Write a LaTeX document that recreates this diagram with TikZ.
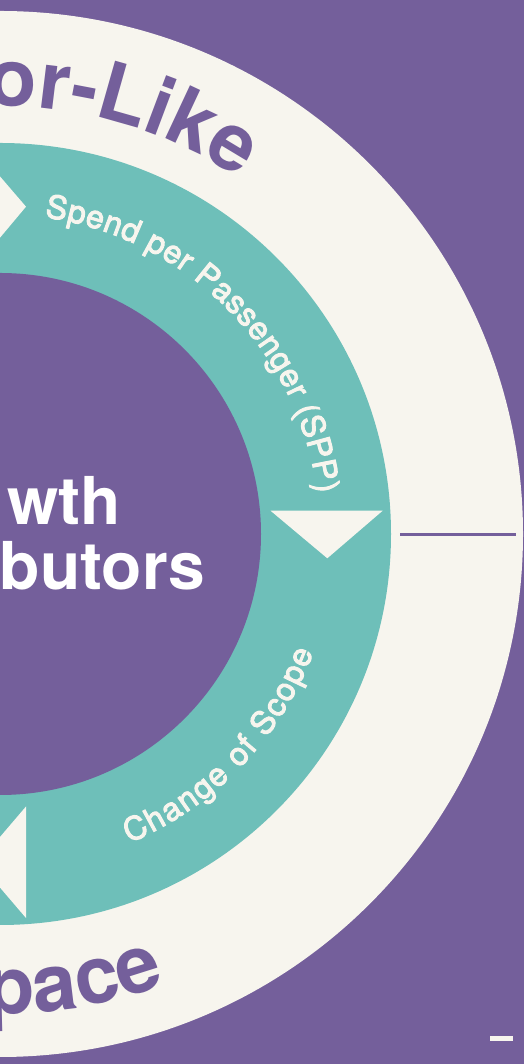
\documentclass[tikz,border=0pt]{standalone}
\usepackage{fontspec}
\setmainfont{TeX Gyre Heros}
\newfontfamily\ringfont[FakeBold=3]{TeX Gyre Heros}
\usetikzlibrary{calc,decorations.text}
\definecolor{plum}{HTML}{745F9B}
\definecolor{lagoon}{HTML}{6EBFB9}
\definecolor{cream}{HTML}{F7F5EE}
\begin{document}
\begin{tikzpicture}[x=1pt,y=1pt,
  arrowhead/.style={fill=cream},
  bigword/.style={decorate,decoration={text along path,text color=plum,
      text={|\bfseries\fontsize{80}{80}\selectfont|#1},text align=right}},
  flowword/.style={decorate,decoration={text along path,text color=cream,
      text={|\ringfont\fontsize{32}{32}\selectfont|#1},text align=fit to path}},
  hubword/.style={anchor=base east,inner sep=0pt,text=white,
      font=\bfseries\fontsize{66}{62}\selectfont},
  tick/.style={draw=plum,line width=2.7pt}]
\useasboundingbox (0,0) rectangle (524,1064);
\clip (0,0) rectangle (524,1064);

% background and the three concentric discs
\fill[plum] (0,0) rectangle (524,1064);
\coordinate (C) at (0,530);
\fill[cream]  (C) circle[radius=523pt];
\fill[lagoon] (C) circle[radius=391pt];
\fill[plum]   (C) circle[radius=261pt];

% flow arrowheads on the teal ring (clockwise)
\coordinate (rA) at (270.5,553.3);
\coordinate (rB) at (382.7,553.3);
\coordinate (rT) at (327.3,505.7);
\coordinate (tA) at (-21.6,800.5);
\coordinate (tB) at (-21.6,912.7);
\coordinate (tT) at (26,857.3);
\coordinate (bA) at (26,257.5);
\coordinate (bB) at (26,146);
\coordinate (bT) at (-21.6,201.7);
\fill[arrowhead] (rA) -- (rB) -- (rT) -- cycle;
\fill[arrowhead] (tA) -- (tB) -- (tT) -- cycle;
\fill[arrowhead] (bA) -- (bB) -- (bT) -- cycle;

% separator on the outer ring
\coordinate (sepA) at (400,529.5);
\coordinate (sepB) at (516,529.5);
\draw[tick] (sepA) -- (sepB);

% words on the outer ring
\path[bigword={or-Like}] ($(C)+(110:428pt)$) arc[start angle=110,end angle=56,radius=428pt];
\path[bigword={pace}] ($(C)+(245:480pt)$) arc[start angle=245,end angle=290.2,radius=480pt];

% words on the teal ring
\path[flowword={Spend per Passenger (SPP)}] ($(C)+(82:320pt)$) arc[start angle=82,end angle=7.3,radius=320pt];
\path[flowword={Change of Scope}] ($(C)+(292.7:335pt)$) arc[start angle=292.7,end angle=339.3,radius=335pt];

% title in the hub
\node[hubword] (hubA) at (121,539) {wth};
\node[hubword] (hubB) at (205,474) {butors};

% small mark in the corner
\fill[cream] (490,23.3) rectangle (512.7,28.3);
\end{tikzpicture}
\end{document}
